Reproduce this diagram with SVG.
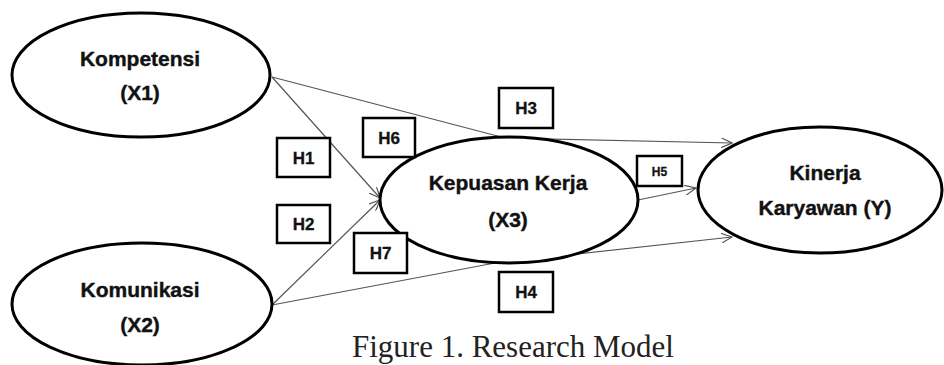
<svg xmlns="http://www.w3.org/2000/svg" width="944" height="365" viewBox="0 0 944 365">
<style>
.node{fill:#fff;stroke:#000;stroke-width:3}
.lbl{font-family:"Liberation Sans",Arial,sans-serif;font-weight:bold;font-size:21px;fill:#111;stroke:#111;stroke-width:0.4;text-anchor:middle}
.box{fill:#fff;stroke:#000;stroke-width:2.5}
.h{font-family:"Liberation Sans",Arial,sans-serif;font-weight:bold;font-size:17px;fill:#111;stroke:#111;stroke-width:0.3;text-anchor:middle}
.con{fill:none;stroke:#555;stroke-width:1.2}
</style>
<defs>
<marker id="arr" viewBox="0 0 12 10" refX="11" refY="5" markerWidth="12" markerHeight="10" markerUnits="userSpaceOnUse" orient="auto">
<path d="M0,0 L11,5 L0,10" fill="none" stroke="#555" stroke-width="1.2"/>
</marker>
</defs>
<rect width="944" height="365" fill="#fff"/>
<g id="connectors">
<path class="con" d="M272,77 L380,198" marker-end="url(#arr)"/>
<path class="con" d="M272,305 L380,200" marker-end="url(#arr)"/>
<path class="con" d="M272,77 L505,138 L732,143" marker-end="url(#arr)"/>
<path class="con" d="M272,305 L495,263 L732,237" marker-end="url(#arr)"/>
<path class="con" d="M638,200 L696,188" marker-end="url(#arr)"/>
</g>
<g id="kompetensi">
<ellipse class="node" cx="141" cy="75" rx="129" ry="62"/>
<text class="lbl" x="140" y="66">Kompetensi</text>
<text class="lbl" x="140" y="100">(X1)</text>
</g>
<g id="komunikasi">
<ellipse class="node" cx="142" cy="304" rx="130" ry="61"/>
<text class="lbl" x="140" y="297">Komunikasi</text>
<text class="lbl" x="140" y="332">(X2)</text>
</g>
<g id="kepuasan">
<ellipse class="node" cx="509" cy="200" rx="129" ry="63"/>
<text class="lbl" x="508" y="190">Kepuasan Kerja</text>
<text class="lbl" x="508" y="227">(X3)</text>
</g>
<g id="kinerja">
<ellipse class="node" cx="820" cy="190" rx="122" ry="63"/>
<text class="lbl" x="825" y="180">Kinerja</text>
<text class="lbl" x="825" y="215">Karyawan (Y)</text>
</g>
<g id="h1"><rect class="box" x="277" y="138" width="53" height="39"/><text class="h" x="303.5" y="164">H1</text></g>
<g id="h2"><rect class="box" x="277" y="205" width="53" height="38"/><text class="h" x="303.5" y="230">H2</text></g>
<g id="h6"><rect class="box" x="363" y="118" width="52" height="39"/><text class="h" x="389" y="144">H6</text></g>
<g id="h7"><rect class="box" x="354" y="233" width="53" height="40"/><text class="h" x="380.5" y="259">H7</text></g>
<g id="h3"><rect class="box" x="499" y="88" width="54" height="40"/><text class="h" x="526" y="114">H3</text></g>
<g id="h4"><rect class="box" x="499" y="272" width="54" height="40"/><text class="h" x="526" y="298">H4</text></g>
<g id="h5"><rect class="box" x="637" y="156" width="45" height="30"/><text class="h" x="659.5" y="176" style="font-size:12px">H5</text></g>
<text x="352" y="357" font-family="'Liberation Serif','Times New Roman',serif" font-size="31" fill="#222">Figure 1. Research Model</text>
</svg>
